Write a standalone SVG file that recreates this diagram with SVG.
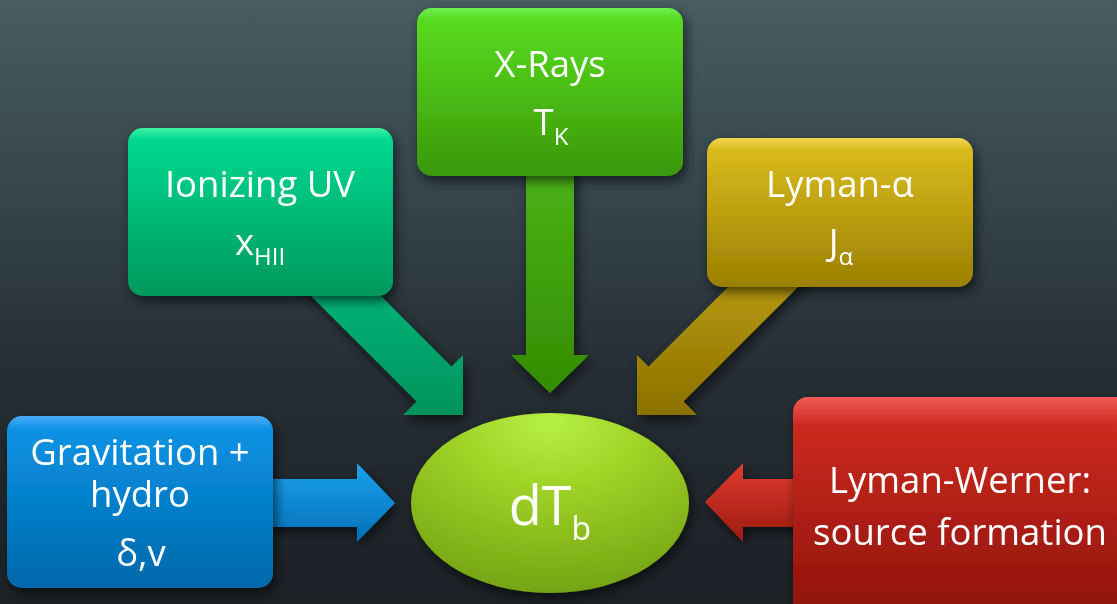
<svg xmlns="http://www.w3.org/2000/svg" width="1117" height="604" viewBox="0 0 1117 604">
<defs>
<linearGradient id="bg" x1="0" y1="0" x2="0" y2="1">
<stop offset="0" stop-color="#485c61"/>
<stop offset="0.3" stop-color="#36474d"/>
<stop offset="0.6" stop-color="#262f35"/>
<stop offset="1" stop-color="#1b2125"/>
</linearGradient>
<linearGradient id="gTeal" x1="0" y1="0" x2="0" y2="1">
<stop offset="0" stop-color="#3ef3a3"/>
<stop offset="0.07" stop-color="#00d890"/>
<stop offset="1" stop-color="#00985c"/>
</linearGradient>
<linearGradient id="gGreen" x1="0" y1="0" x2="0" y2="1">
<stop offset="0" stop-color="#6af24e"/>
<stop offset="0.07" stop-color="#58da20"/>
<stop offset="1" stop-color="#3a9808"/>
</linearGradient>
<linearGradient id="gGold" x1="0" y1="0" x2="0" y2="1">
<stop offset="0" stop-color="#f4d850"/>
<stop offset="0.08" stop-color="#d8ba1c"/>
<stop offset="1" stop-color="#9a8000"/>
</linearGradient>
<linearGradient id="gBlue" x1="0" y1="0" x2="0" y2="1">
<stop offset="0" stop-color="#4aacf8"/>
<stop offset="0.08" stop-color="#0a92e4"/>
<stop offset="1" stop-color="#0068aa"/>
</linearGradient>
<linearGradient id="gRed" x1="0" y1="0" x2="0" y2="1">
<stop offset="0" stop-color="#f25c57"/>
<stop offset="0.12" stop-color="#cc2a20"/>
<stop offset="1" stop-color="#8a1208"/>
</linearGradient>
<radialGradient id="gEll" cx="0.5" cy="0.1" r="0.95" fx="0.5" fy="0.05">
<stop offset="0" stop-color="#b6f044"/>
<stop offset="0.35" stop-color="#a0d428"/>
<stop offset="1" stop-color="#70a010"/>
</radialGradient>
<linearGradient id="aTeal" x1="0" y1="0" x2="0" y2="1">
<stop offset="0" stop-color="#00c482"/>
<stop offset="1" stop-color="#00925e"/>
</linearGradient>
<linearGradient id="aGreen" x1="0" y1="0" x2="0" y2="1">
<stop offset="0" stop-color="#4cb416"/>
<stop offset="1" stop-color="#348c02"/>
</linearGradient>
<linearGradient id="aGold" x1="0" y1="0" x2="0" y2="1">
<stop offset="0" stop-color="#c8aa12"/>
<stop offset="1" stop-color="#8a7000"/>
</linearGradient>
<linearGradient id="aBlue" x1="0" y1="0" x2="0" y2="1">
<stop offset="0" stop-color="#1ca2ee"/>
<stop offset="1" stop-color="#0070b8"/>
</linearGradient>
<linearGradient id="aRed" x1="0" y1="0" x2="0" y2="1">
<stop offset="0" stop-color="#e03c30"/>
<stop offset="1" stop-color="#9c1a10"/>
</linearGradient>
<filter id="sh" x="-20%" y="-20%" width="140%" height="140%">
<feDropShadow dx="3" dy="5" stdDeviation="6" flood-color="#000" flood-opacity="0.6"/>
</filter>
</defs>
<style>
text { font-family: "Open Sans", "Noto Sans", sans-serif; fill: #ffffff; text-anchor: middle; }
.t { font-size: 36.5px; }
.s { font-size: 24px; }
.big { font-size: 54px; }
.sb { font-size: 32px; }
</style>
<rect x="0" y="0" width="1117" height="604" fill="url(#bg)"/>
<g id="connectors" filter="url(#sh)">
<polygon points="312.5,227.5 451.5,366.5 463,355 463,415 403,415 416.5,401.5 277.5,262.5" fill="url(#aTeal)"/>
<polygon points="526,160 574,160 574,355 589,355 550,393 511,355 526,355" fill="url(#aGreen)"/>
<polygon points="787.5,227.5 648.5,366.5 637,355 637,415 697,415 683.5,401.5 822.5,262.5" fill="url(#aGold)"/>
<polygon points="250,479 357,479 357,463 395,503 357,542 357,527 250,527" fill="url(#aBlue)"/>
<polygon points="820,479 743,479 743,463 705,502 743,542 743,527 820,527" fill="url(#aRed)"/>
</g>
<g id="ionizing" filter="url(#sh)">
<rect x="128" y="128" width="265" height="168" rx="15" fill="url(#gTeal)"/>
<text class="t" x="260" y="197">Ionizing UV</text>
<text class="t" x="260" y="255">x<tspan class="s" dy="10">HII</tspan></text>
</g>
<g id="xrays" filter="url(#sh)">
<rect x="417" y="8" width="266" height="168" rx="15" fill="url(#gGreen)"/>
<text class="t" x="550" y="77">X-Rays</text>
<text class="t" x="551" y="135">T<tspan class="s" dy="10">K</tspan></text>
</g>
<g id="lyman-alpha" filter="url(#sh)">
<rect x="707" y="138" width="266" height="149" rx="15" fill="url(#gGold)"/>
<text class="t" x="840" y="197">Lyman-α</text>
<text class="t" x="841" y="255">J<tspan class="s" dy="10">α</tspan></text>
</g>
<g id="gravitation" filter="url(#sh)">
<rect x="7" y="416" width="266" height="172" rx="15" fill="url(#gBlue)"/>
<text class="t" x="140" y="465">Gravitation +</text>
<text class="t" x="140" y="507">hydro</text>
<text class="t" x="141" y="566">δ,v</text>
</g>
<g id="lyman-werner" filter="url(#sh)">
<rect x="793" y="397" width="345" height="230" rx="15" fill="url(#gRed)"/>
<text class="t" x="960" y="493">Lyman-Werner:</text>
<text class="t" x="960" y="545">source formation</text>
</g>
<g id="dTb" filter="url(#sh)">
<ellipse cx="550" cy="503" rx="139" ry="90" fill="url(#gEll)"/>
<text class="big" x="550" y="525">dT<tspan class="sb" dy="15">b</tspan></text>
</g>
</svg>
